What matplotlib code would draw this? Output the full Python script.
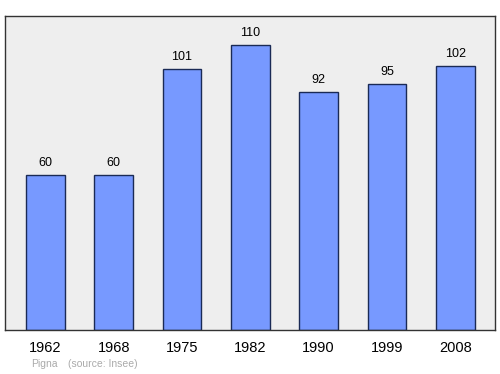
import matplotlib
matplotlib.use('Agg')
import matplotlib.pyplot as plt

years = ['1962', '1968', '1975', '1982', '1990', '1999', '2008']
population = [60, 60, 101, 110, 92, 95, 102]

plt.rcParams['font.family'] = ['Liberation Sans', 'DejaVu Sans']

fig = plt.figure(figsize=(5, 3.74), dpi=100)
ax = fig.add_axes([0.01, 0.1176, 0.98, 0.8396])
ax.set_facecolor('#eeeeee')

x = range(len(years))
ax.bar(x, population, width=0.57, color='#7799ff', edgecolor='#1a2a55', linewidth=1)

for xi, v in zip(x, population):
    ax.annotate(str(v), (xi, v), xytext=(0, 6.5), textcoords='offset points',
                ha='center', va='baseline', fontsize=9)

ax.set_xlim(-0.59, 6.58)
ax.set_ylim(0, 121.4)
ax.set_xticks(list(x))
ax.set_xticklabels(years, fontsize=10.5)
ax.tick_params(axis='x', length=0, pad=8)
ax.set_yticks([])
for s in ax.spines.values():
    s.set_color('#333333')
    s.set_linewidth(1)

fig.text(0.062, 0.019, 'Pigna', fontsize=7.5, color='#aaaaaa')
fig.text(0.136, 0.019, '(source: Insee)', fontsize=7.5, color='#aaaaaa')

fig.savefig('out.png', dpi=100)
